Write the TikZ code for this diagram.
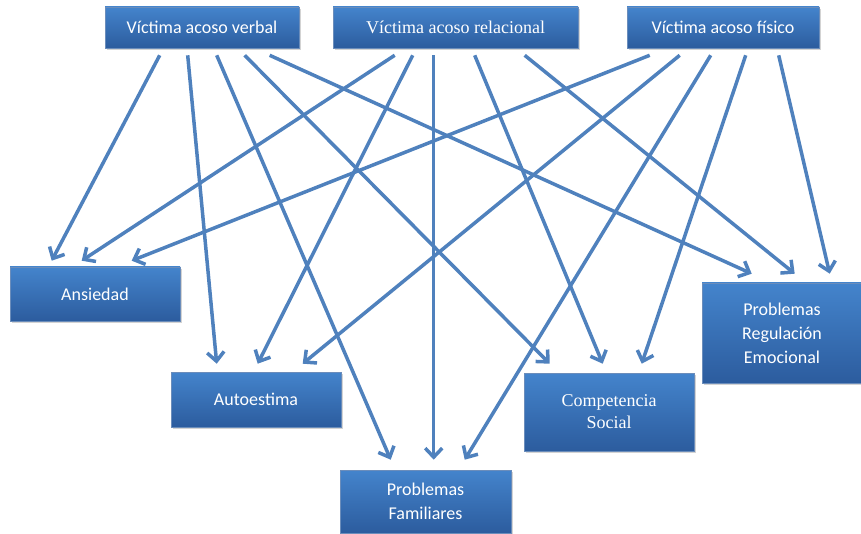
\documentclass[tikz,border=0pt]{standalone}
\usepackage{fontspec}
\setmainfont{Carlito}
\newfontfamily\timesfont{Liberation Serif}
\usetikzlibrary{arrows.meta,shadows}
\definecolor{cajatop}{RGB}{68,132,204}
\definecolor{cajabot}{RGB}{44,92,158}
\definecolor{flechaazul}{RGB}{79,129,189}

\begin{document}
\begin{tikzpicture}[x=1pt,y=1pt,
  caja/.style={rectangle,draw=cajabot!70!white,line width=0.6pt,top color=cajatop,bottom color=cajabot,
    text=white,align=center,inner sep=0pt,font=\fontsize{18}{24}\selectfont,
    drop shadow={shadow xshift=2pt,shadow yshift=-2pt,opacity=0.35}},
  serifa/.style={font=\timesfont\fontsize{18}{22}\selectfont},
  flecha/.style={-{Straight Barb[length=9pt,width=17pt]},draw=flechaazul,line width=3.5pt}]
\useasboundingbox (0,0) rectangle (861,533);

\node [caja,minimum width=194pt,minimum height=41pt] (verbal) at (202,505.5) {Víctima acoso verbal};
\node [caja,serifa,minimum width=245pt,minimum height=41pt] (relacional) at (455.5,505.5) {Víctima acoso relacional};
\node [caja,minimum width=192pt,minimum height=41pt] (fisico) at (723,505.5) {Víctima acoso físico};

\node [caja,minimum width=170pt,minimum height=54pt] (ansiedad) at (95,239) {Ansiedad};
\node [caja,minimum width=170pt,minimum height=55pt] (autoestima) at (256,133.5) {Autoestima};
\node [caja,minimum width=171pt,minimum height=63pt] (familiares) at (425.5,31.5) {Problemas\\Familiares};
\node [caja,serifa,minimum width=170pt,minimum height=78pt] (competencia) at (609,121) {Competencia\\Social};
\node [caja,minimum width=160pt,minimum height=100pt] (regulacion) at (782,200) {Problemas\\Regulación\\Emocional};

\foreach \t/\a/\b/\h in {ansiedad/55/42/6,autoestima/83/46/8,familiares/112/51/10,competencia/140/26/9,regulacion/165/50/9}
  \draw [flecha] ([xshift=\a pt,yshift=-7pt]verbal.south west) -- ([xshift=\b pt,yshift=\h pt]\t.north west);
\foreach \t/\a/\b/\h in {ansiedad/62/72/6,autoestima/80/87/8,familiares/101/94/10,competencia/142/79/9,regulacion/192/93/9}
  \draw [flecha] ([xshift=\a pt,yshift=-7pt]relacional.south west) -- ([xshift=\b pt,yshift=\h pt]\t.north west);
\foreach \t/\a/\b/\h in {ansiedad/23/122/6,autoestima/53/132/8,familiares/84/125/10,competencia/119/118/9,regulacion/152/128/9}
  \draw [flecha] ([xshift=\a pt,yshift=-7pt]fisico.south west) -- ([xshift=\b pt,yshift=\h pt]\t.north west);
\end{tikzpicture}
\end{document}
